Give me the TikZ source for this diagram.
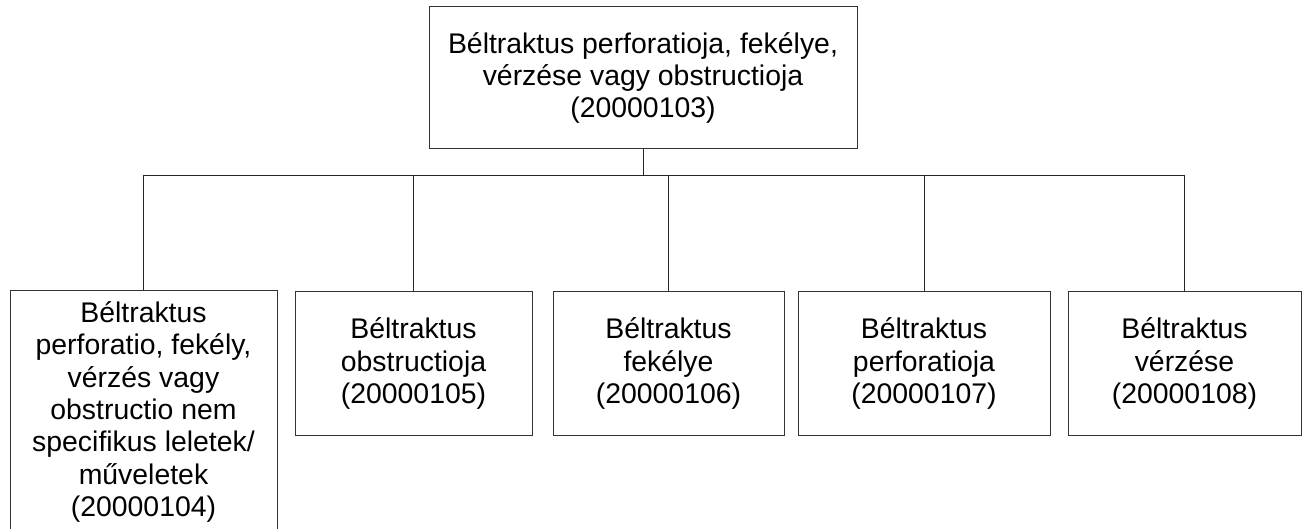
\documentclass[tikz,border=0pt]{standalone}
\usepackage{fontspec}
\setmainfont{Liberation Sans}
\begin{document}
\begin{tikzpicture}[x=1pt,y=-1pt,line width=1pt,
  box/.style={draw=black!80,rectangle,inner sep=0pt,align=center,
    font=\fontsize{28.4}{32.3}\selectfont},
  conn/.style={draw=black!85,line width=1pt}]
\useasboundingbox (0,0) rectangle (1302,529);
\node[box,minimum width=428pt,minimum height=142pt] (top) at (643,78)
  {Béltraktus perforatioja, fekélye,\\vérzése vagy obstructioja\\(20000103)};
\node[box,minimum width=267pt,minimum height=242pt] (c1) at (143.5,412)
  {Béltraktus\\perforatio, fekély,\\vérzés vagy\\obstructio nem\\specifikus leletek/\\műveletek\\(20000104)};
\node[box,minimum width=237pt,minimum height=143pt] (c2) at (413.5,363.5)
  {Béltraktus\\obstructioja\\(20000105)};
\node[box,minimum width=231pt,minimum height=143pt] (c3) at (668.5,363.5)
  {Béltraktus\\fekélye\\(20000106)};
\node[box,minimum width=252pt,minimum height=143pt] (c4) at (924,363.5)
  {Béltraktus\\perforatioja\\(20000107)};
\node[box,minimum width=233pt,minimum height=143pt] (c5) at (1184.5,363.5)
  {Béltraktus\\vérzése\\(20000108)};
\coordinate (bus) at (643,176);
\draw[conn] (top.south) -- (bus);
\foreach \c in {c1,c2,c3,c4,c5} {
  \draw[conn] (\c.north) |- (bus);
}
\end{tikzpicture}
\end{document}
